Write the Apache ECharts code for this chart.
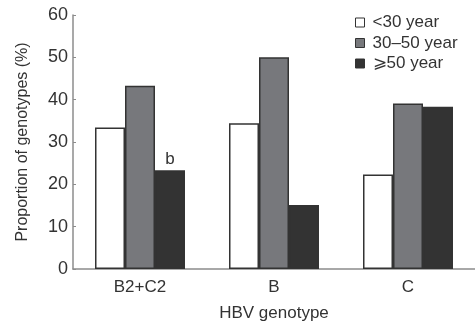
<!DOCTYPE html>
<html><head><meta charset="utf-8">
<script src="https://cdn.jsdelivr.net/npm/echarts@6/dist/echarts.min.js"></script>
<style>html,body{margin:0;padding:0;background:#fff}#c{width:475px;height:327px}</style>
</head><body><div id="c"></div>
<script>
const categories = ['B2+C2', 'B', 'C'];
const seriesNames = ['<30 year', '30\u201350 year', '\u2a7e50 year'];
const under30 = [33.4, 34.4, 22.3];
const age30to50 = [43.3, 50.0, 39.1];
const over50 = [23.3, 15.1, 38.3];
const yTicks = [0, 10, 20, 30, 40, 50, 60];
const annoOver50 = ['b', '', ''];

const font = 'Liberation Sans';
const chart = echarts.init(document.getElementById('c'));
const colors = ['#ffffff', '#77787c', '#333333'];
const data = [under30, age30to50, over50];
chart.setOption({
  animation: false,
  textStyle: {fontFamily: font},
  grid: {left: 73, right: -3, top: 15, bottom: 57},
  legend: {
    orient: 'vertical', left: 350, top: 9, itemWidth: 9, itemHeight: 9, itemGap: 3.5,
    textStyle: {fontSize: 17, color: '#333', fontFamily: font, padding: [0, 0, 0, 3]},
    data: seriesNames.map((n, i) => ({name: n, icon: 'rect', itemStyle: {color: colors[i], borderColor: '#333', borderWidth: 1}}))
  },
  xAxis: {
    type: 'category', data: categories,
    name: 'HBV genotype', nameLocation: 'middle', nameGap: 36,
    nameTextStyle: {fontSize: 17, color: '#333', fontFamily: font},
    axisLine: {lineStyle: {color: '#8c8c8c', width: 1.5}},
    axisTick: {inside: true, length: 3, lineStyle: {color: '#555'}},
    axisLabel: {fontSize: 17, color: '#333', margin: 10, fontFamily: font}
  },
  yAxis: {
    type: 'value', min: yTicks[0], max: yTicks[yTicks.length - 1], interval: 10,
    name: 'Proportion of genotypes (%)', nameLocation: 'middle', nameGap: 42, nameRotate: 90,
    nameTextStyle: {fontSize: 16, color: '#333', fontFamily: font},
    axisLine: {show: true, lineStyle: {color: '#8c8c8c', width: 1.5}},
    axisTick: {show: true, inside: true, length: 3, lineStyle: {color: '#8c8c8c'}},
    splitLine: {show: false},
    axisLabel: {fontSize: 18, color: '#333', margin: 5, fontFamily: font}
  },
  series: seriesNames.map((n, i) => ({
    name: n, type: 'bar', data: data[i].map((v, j) => ({
      value: v,
      label: (i === 2 && annoOver50[j]) ? {show: true, position: 'top', distance: 3, formatter: annoOver50[j], fontSize: 17, color: '#333', fontFamily: font} : {show: false}
    })),
    barWidth: 30, barGap: '0%',
    itemStyle: {color: colors[i], borderColor: '#333', borderWidth: 1.5}
  }))
});
</script></body></html>
